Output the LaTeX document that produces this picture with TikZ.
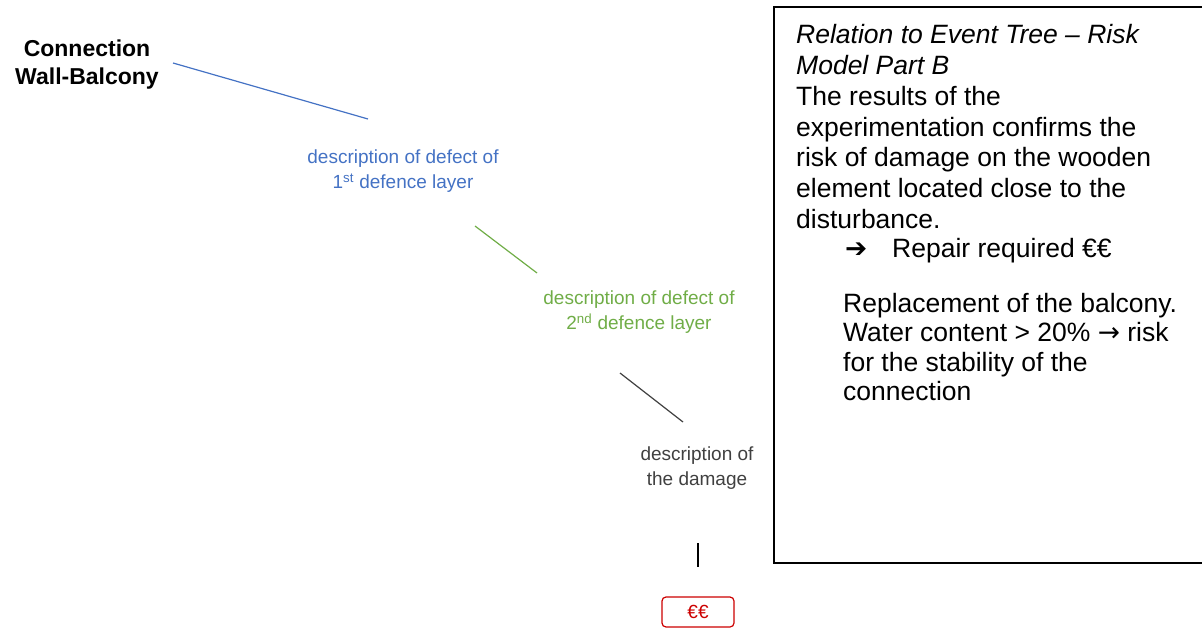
\documentclass[tikz,border=0pt]{standalone}
\usepackage{fontspec}
\setmainfont{Liberation Sans}
\newfontfamily\arrowfont{DejaVu Sans}
\usetikzlibrary{calc}

\definecolor{layerblue}{RGB}{68,114,196}
\definecolor{layergreen}{RGB}{112,173,71}
\definecolor{damagegray}{RGB}{64,64,64}
\definecolor{costred}{RGB}{204,0,0}

\begin{document}
\begin{tikzpicture}[x=1pt, y=-1pt,
    desc/.style={align=center, inner sep=0pt, font=\fontsize{19}{25}\selectfont},
    link/.style={line width=1.2pt},
    boxtext/.style={align=left, inner sep=0pt, font=\fontsize{26.5}{30.7}\selectfont}]
  \useasboundingbox (0,0) rectangle (1202,628);

  % Event chain labels
  \node[align=center, inner sep=0pt, font=\fontsize{23}{28}\selectfont\bfseries] (conn) at (87,65) {Connection\\Wall-Balcony};
  \node[desc, text=layerblue]  (layer1) at (403,171) {description of defect of\\1\textsuperscript{st} defence layer};
  \node[desc, text=layergreen] (layer2) at (639,312) {description of defect of\\2\textsuperscript{nd} defence layer};
  \node[desc, text=damagegray] (damage) at (697,468) {description of\\the damage};

  % Cost
  \node[draw=costred, text=costred, rounded corners=4pt, line width=1.2pt,
        minimum width=72pt, minimum height=30pt, inner sep=0pt,
        font=\fontsize{19}{22}\selectfont] (cost) at (698,612) {€€};

  % Links between the steps
  \coordinate (c1) at (173,63);  \coordinate (c2) at (368,119);
  \coordinate (g1) at (475,226); \coordinate (g2) at (537,273);
  \coordinate (d1) at (620,373); \coordinate (d2) at (683,422);
  \coordinate (e1) at (698,543); \coordinate (e2) at (698,567);
  \draw[link, layerblue]  (c1) -- (c2);
  \draw[link, layergreen] (g1) -- (g2);
  \draw[link, damagegray] (d1) -- (d2);
  \draw[link, black]      (e1) -- (e2);

  % Relation box
  \draw[line width=1.8pt] (1202,7) -- (774,7) -- (774,563) -- (1202,563);
  \node[boxtext, anchor=north west] (relation) at (796,24.5)
    {\textit{Relation to Event Tree – Risk}\\\textit{Model Part B}\\The results of the\\experimentation confirms the\\risk of damage on the wooden\\element located close to the\\disturbance.};
  \node[boxtext, anchor=base west] (arrow) at (845,258) {\arrowfont\bfseries ➔};
  \node[boxtext, anchor=base west] (repair) at (892,258) {Repair required €€};
  \node[boxtext, anchor=north west, font=\fontsize{26.5}{29.5}\selectfont] (replace) at (843,293)
    {Replacement of the balcony.\\Water content > 20\% {\arrowfont →} risk\\for the stability of the\\connection};
\end{tikzpicture}
\end{document}
